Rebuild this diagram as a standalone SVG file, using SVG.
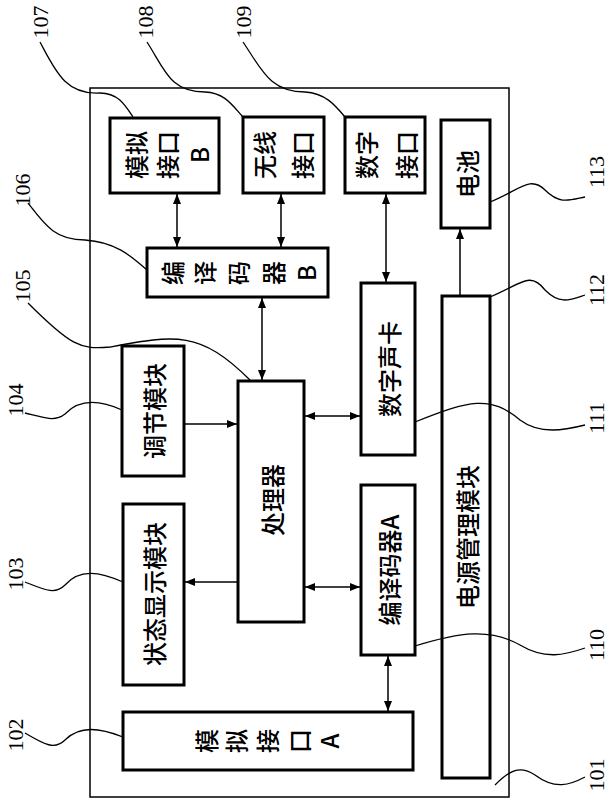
<svg xmlns="http://www.w3.org/2000/svg" width="609" height="802" viewBox="0 0 609 802">
<style>
.b{fill:#fff;stroke:#000;stroke-width:3}
.t{font-family:"Noto Sans CJK SC","Liberation Sans",sans-serif;font-size:24px;font-weight:500;text-anchor:middle;dominant-baseline:central}
.n{font-family:"Liberation Serif",serif;font-size:22px;text-anchor:middle;dominant-baseline:central}
.c line{stroke:#000;stroke-width:1.5}
.l{fill:none;stroke:#000;stroke-width:1.3}
</style>
<defs>
<marker id="a" viewBox="0 0 10 10" refX="10" refY="5" markerWidth="10" markerHeight="10" orient="auto-start-reverse" markerUnits="userSpaceOnUse"><path d="M0,1 L10,5 L0,9 z" fill="#000"/></marker>
</defs>
<rect x="90" y="88" width="419" height="709" fill="none" stroke="#000" stroke-width="1.5"/>
<g id="n107"><rect class="b" x="110" y="118" width="109" height="75"/><text class="t" transform="translate(135,155) rotate(-90)">模拟</text><text class="t" transform="translate(166,155) rotate(-90)">接口</text><text class="t" transform="translate(198,155) rotate(-90)">B</text></g>
<g id="n108"><rect class="b" x="243" y="117" width="81" height="76"/><text class="t" transform="translate(263,155) rotate(-90)">无线</text><text class="t" transform="translate(301,155) rotate(-90)">接口</text></g>
<g id="n109"><rect class="b" x="345" y="117" width="80" height="76"/><text class="t" transform="translate(365,155) rotate(-90)">数字</text><text class="t" transform="translate(405,155) rotate(-90)">接口</text></g>
<g id="n113"><rect class="b" x="441" y="120" width="49" height="108"/><text class="t" transform="translate(466,174) rotate(-90)">电池</text></g>
<g id="n106"><rect class="b" x="147" y="248" width="181" height="49"/>
<text class="t" transform="translate(171,273) rotate(-90)">编</text>
<text class="t" transform="translate(203,273) rotate(-90)">译</text>
<text class="t" transform="translate(237,273) rotate(-90)">码</text>
<text class="t" transform="translate(272,273) rotate(-90)">器</text>
<text class="t" transform="translate(305,273) rotate(-90)">B</text></g>
<g id="n105"><rect class="b" x="238" y="381" width="66" height="241"/><text class="t" transform="translate(271,500) rotate(-90)">处理器</text></g>
<g id="n104"><rect class="b" x="122" y="346" width="62" height="130"/><text class="t" transform="translate(153,411) rotate(-90)">调节模块</text></g>
<g id="n103"><rect class="b" x="123" y="504" width="61" height="181"/><text class="t" transform="translate(153,594) rotate(-90)">状态显示模块</text></g>
<g id="n102"><rect class="b" x="123" y="712" width="290" height="58"/>
<text class="t" transform="translate(205,741) rotate(-90)">模</text>
<text class="t" transform="translate(235,741) rotate(-90)">拟</text>
<text class="t" transform="translate(266,741) rotate(-90)">接</text>
<text class="t" transform="translate(298,741) rotate(-90)">口</text>
<text class="t" transform="translate(328,741) rotate(-90)">A</text></g>
<g id="n111"><rect class="b" x="361" y="283" width="54" height="172"/><text class="t" transform="translate(388,369) rotate(-90)">数字声卡</text></g>
<g id="n110"><rect class="b" x="361" y="485" width="54" height="170"/><text class="t" transform="translate(388,570) rotate(-90)">编译码器A</text></g>
<g id="n112"><rect class="b" x="442" y="296" width="48" height="482"/><text class="t" transform="translate(466,537) rotate(-90)">电源管理模块</text></g>
<g class="c">
<line x1="177" y1="194" x2="177" y2="247" marker-start="url(#a)" marker-end="url(#a)"/>
<line x1="281" y1="194" x2="281" y2="247" marker-start="url(#a)" marker-end="url(#a)"/>
<line x1="386" y1="194" x2="386" y2="282" marker-start="url(#a)" marker-end="url(#a)"/>
<line x1="460" y1="295" x2="460" y2="229" marker-end="url(#a)"/>
<line x1="262" y1="298" x2="262" y2="380" marker-start="url(#a)" marker-end="url(#a)"/>
<line x1="185" y1="424" x2="237" y2="424" marker-end="url(#a)"/>
<line x1="305" y1="416" x2="360" y2="416" marker-start="url(#a)" marker-end="url(#a)"/>
<line x1="237" y1="582" x2="185" y2="582" marker-end="url(#a)"/>
<line x1="305" y1="587" x2="360" y2="587" marker-start="url(#a)" marker-end="url(#a)"/>
<line x1="388" y1="656" x2="388" y2="711" marker-start="url(#a)" marker-end="url(#a)"/>
</g>
<g id="labels">
<path class="l" d="M40,42 C55,70 65,95 100,93 C118,93 125,105 133,117"/>
<path class="l" d="M147,42 C165,70 170,92 205,92 C225,93 232,105 243,117"/>
<path class="l" d="M243,42 C262,70 270,92 305,92 C325,93 335,105 345,117"/>
<path class="l" d="M28,203 C45,225 55,240 85,240 C115,242 130,255 147,270"/>
<path class="l" d="M28,303 C70,345 80,350 110,347 C175,335 200,330 250,380"/>
<path class="l" d="M25,413 C45,418 55,422 65,414 C80,398 100,400 122,410"/>
<path class="l" d="M25,582 C45,590 55,595 65,585 C80,568 100,572 123,582"/>
<path class="l" d="M25,733 C45,745 55,750 65,740 C80,725 100,728 123,737"/>
<path class="l" d="M490,202 C520,190 530,175 545,190 C560,205 570,200 585,197"/>
<path class="l" d="M490,297 C520,285 530,270 545,290 C560,305 570,300 585,295"/>
<path class="l" d="M415,422 C470,400 490,395 520,420 C540,435 565,430 585,425"/>
<path class="l" d="M415,646 C460,632 490,628 520,645 C545,660 565,655 585,648"/>
<path class="l" d="M495,785 C510,770 520,765 535,775 C555,790 570,785 585,777"/>
<text class="n" transform="translate(40,22) rotate(-90)">107</text>
<text class="n" transform="translate(145,22) rotate(-90)">108</text>
<text class="n" transform="translate(243,22) rotate(-90)">109</text>
<text class="n" transform="translate(22,190) rotate(-90)">106</text>
<text class="n" transform="translate(22,286) rotate(-90)">105</text>
<text class="n" transform="translate(15,400) rotate(-90)">104</text>
<text class="n" transform="translate(15,574) rotate(-90)">103</text>
<text class="n" transform="translate(15,735) rotate(-90)">102</text>
<text class="n" transform="translate(596,172) rotate(-90)">113</text>
<text class="n" transform="translate(596,290) rotate(-90)">112</text>
<text class="n" transform="translate(596,418) rotate(-90)">111</text>
<text class="n" transform="translate(596,645) rotate(-90)">110</text>
<text class="n" transform="translate(596,775) rotate(-90)">101</text>
</g>
</svg>
